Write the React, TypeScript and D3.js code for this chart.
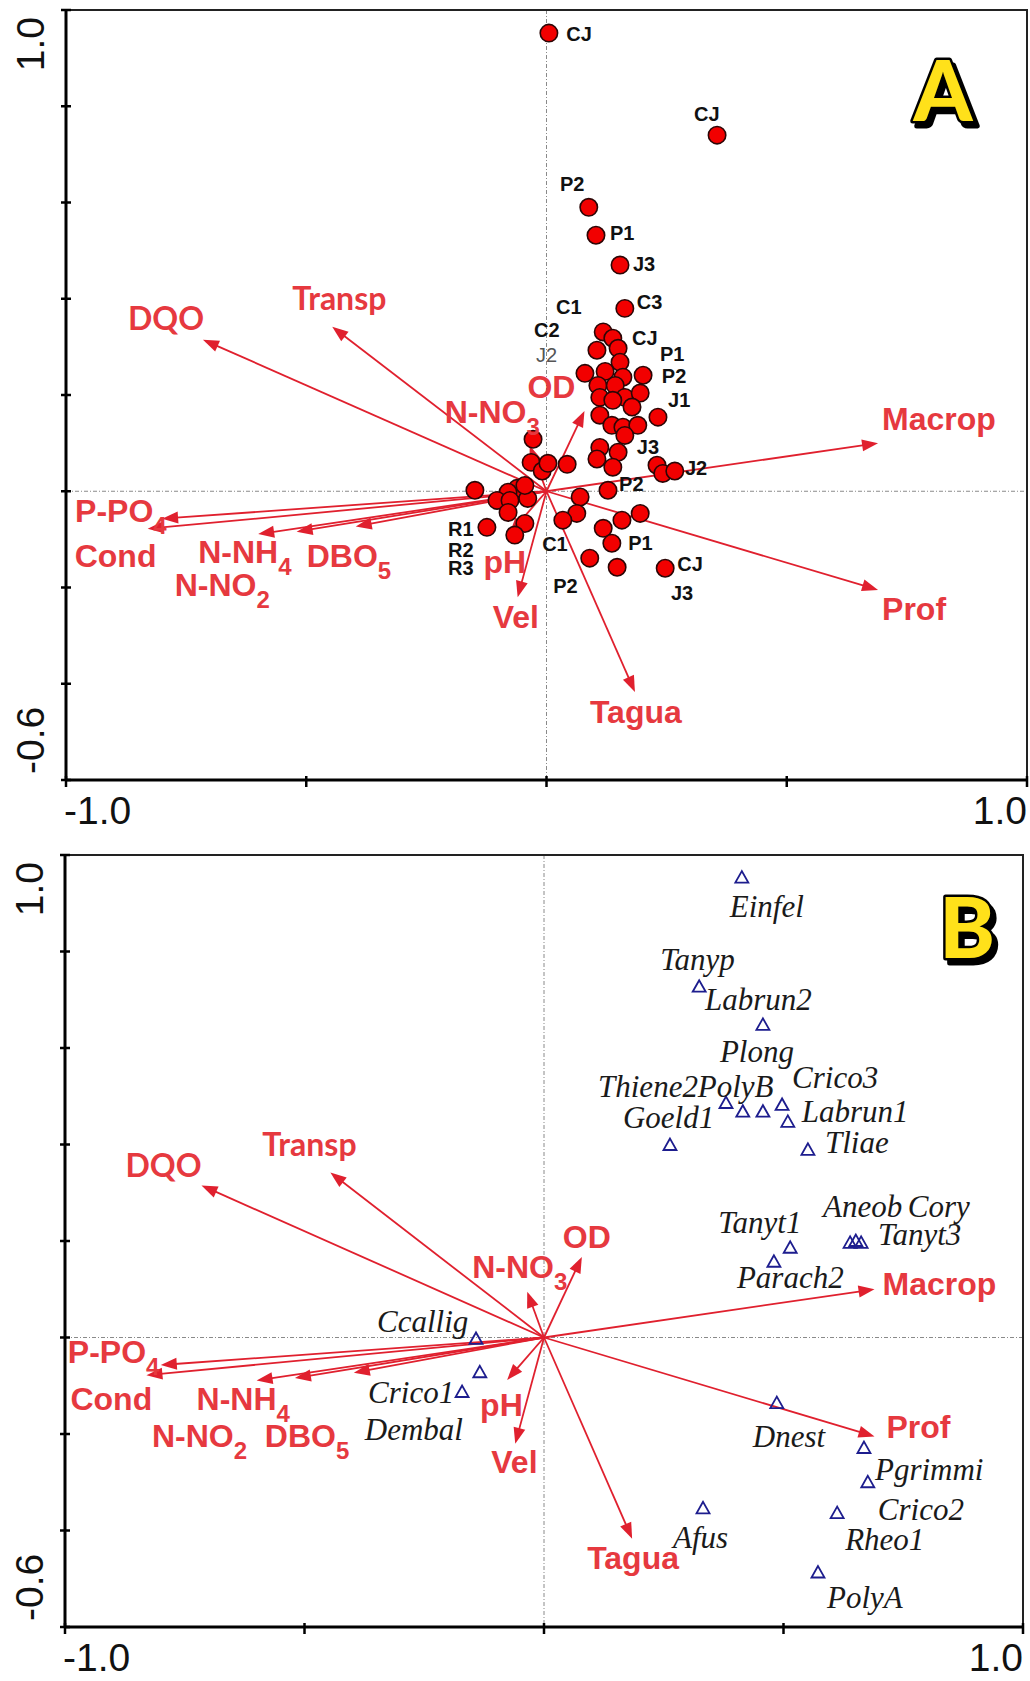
import React from 'react';
import * as d3 from 'd3';

const WIDTH = 1030;
const HEIGHT = 1681;

// environmental variables (same biplot arrows in both panels)
const envNames = ['DQO', 'Transp', 'N-NO3', 'OD', 'Macrop', 'Prof', 'Tagua', 'Vel', 'pH', 'P-PO4', 'Cond', 'N-NH4', 'N-NO2', 'DBO5'];
const envX = [-0.715, -0.446, -0.035, 0.079, 0.69, 0.69, 0.184, -0.06, -0.077, -0.8, -0.83, -0.6, -0.52, -0.397];
const envY = [0.315, 0.342, 0.095, 0.167, 0.1, -0.205, -0.417, -0.22, -0.088, -0.057, -0.078, -0.089, -0.084, -0.073];

// panel A: sampling sites
const siteX = [0.005, 0.355, 0.088, 0.103, 0.153, 0.163, 0.118, 0.138, 0.105, 0.149, 0.153, 0.08, 0.122, 0.159, 0.201,
  0.107, 0.143, 0.163, 0.195, 0.111, 0.138, 0.178, 0.111, 0.136, 0.159, 0.19, 0.232, 0.163, 0.111, 0.105, 0.149, 0.138,
  -0.028, -0.032, -0.009, 0.003, 0.043, 0.23, 0.242, 0.267, -0.149, -0.061, -0.08, -0.103, -0.076, -0.039, -0.08, -0.045,
  -0.124, -0.066, 0.07, 0.128, 0.063, 0.034, 0.157, 0.195, 0.118, 0.136, 0.09, 0.147, 0.247, -0.045];
const siteY = [0.952, 0.74, 0.59, 0.532, 0.47, 0.38, 0.331, 0.318, 0.293, 0.297, 0.268, 0.245, 0.249, 0.237, 0.241,
  0.22, 0.22, 0.195, 0.204, 0.195, 0.189, 0.175, 0.158, 0.137, 0.133, 0.137, 0.154, 0.116, 0.091, 0.067, 0.081, 0.05,
  0.108, 0.06, 0.042, 0.058, 0.056, 0.054, 0.037, 0.042, 0.002, 0.006, -0.002, -0.019, -0.019, -0.015, -0.044, -0.067,
  -0.075, -0.091, -0.012, 0.002, -0.046, -0.06, -0.06, -0.046, -0.077, -0.108, -0.139, -0.158, -0.16, 0.012];

const siteLabels = ['CJ', 'CJ', 'P2', 'P1', 'J3', 'C1', 'C3', 'C2', 'J2', 'CJ', 'P1', 'P2', 'J1', 'J3', 'J2', 'P2',
  'R1', 'R2', 'R3', 'C1', 'P1', 'P2', 'CJ', 'J3'];
const siteLabelX = [0.041, 0.307, 0.028, 0.132, 0.18, 0.02, 0.188, -0.026, -0.022, 0.178, 0.236, 0.24, 0.253, 0.188,
  0.288, 0.151, -0.205, -0.205, -0.205, -0.009, 0.17, 0.014, 0.272, 0.259];
const siteLabelY = [0.936, 0.769, 0.624, 0.522, 0.457, 0.368, 0.378, 0.32, 0.268, 0.304, 0.27, 0.225, 0.175, 0.077,
  0.033, 0.0, -0.094, -0.137, -0.175, -0.125, -0.123, -0.212, -0.166, -0.227];

// panel B: taxa
const taxa = ['Einfel', 'Tanyp', 'Labrun2', 'Thiene2', 'PolyB', 'Plong', 'Crico3', 'Labrun1', 'Goeld1', 'Tliae',
  'Aneob', 'Cory', 'Tanyt3', 'Tanyt1', 'Parach2', 'Dnest', 'Pgrimmi', 'Crico2', 'Rheo1', 'PolyA', 'Afus',
  'Ccallig', 'Crico1', 'Dembal'];
const taxaX = [0.413, 0.324, 0.457, 0.38, 0.415, 0.457, 0.497, 0.509, 0.263, 0.551, 0.639, 0.651, 0.662, 0.514,
  0.48, 0.486, 0.668, 0.676, 0.612, 0.572, 0.332, -0.142, -0.171, -0.134];
const taxaY = [0.953, 0.727, 0.648, 0.486, 0.468, 0.468, 0.482, 0.447, 0.399, 0.389, 0.196, 0.2, 0.196, 0.186,
  0.157, -0.136, -0.229, -0.3, -0.364, -0.487, -0.354, -0.003, -0.113, -0.072];

const xTicks = [-1, -0.5, 0, 0.5, 1];
const yTicks = [-0.6, -0.4, -0.2, 0, 0.2, 0.4, 0.6, 0.8, 1.0];
const xTickLabels = ['-1.0', '1.0'];
const yTickLabels = ['-0.6', '1.0'];

// label placement (px offsets from arrow tip), per panel
const envLabelOffA: Record<string, number[]> = {
  DQO: [-75, -10], Transp: [-40, -17], 'N-NO3': [-85, -23], OD: [-57, -13], Macrop: [4, -13], Prof: [4, 30],
  Tagua: [-45, 31], Vel: [-25, 31], pH: [-26, 39], 'P-PO4': [-87, 3], Cond: [-73, 38], 'N-NH4': [-60, 29],
  'N-NO2': [-122, 64], DBO5: [-49, 41],
};
const envLabelOffB: Record<string, number[]> = {
  DQO: [-76, -9], Transp: [-68, -16], 'N-NO3': [-55, -14], OD: [-19, -9], Macrop: [8, 6], Prof: [12, 2],
  Tagua: [-45, 30], Vel: [-24, 29], pH: [-27, 36], 'P-PO4': [-93, -2], Cond: [-76, 35], 'N-NH4': [-60, 30],
  'N-NO2': [-143, 69], DBO5: [-89, 74],
};
const taxaLabelOff: Record<string, number[]> = {
  Einfel: [-12, 39], Tanyp: [-39, -17], Labrun2: [-58, -15], Thiene2: [-128, -6], PolyB: [-45, -15],
  Plong: [-43, -50], Crico3: [10, -17], Labrun1: [14, 0], Goeld1: [-47, -17], Tliae: [17, 3], Aneob: [-27, -26],
  Cory: [52, -24], Tanyt3: [17, 2], Tanyt1: [-72, -15], Parach2: [-37, 26], Dnest: [-24, 44], Pgrimmi: [11, 32],
  Crico2: [10, 38], Rheo1: [8, 37], PolyA: [9, 36], Afus: [-30, 40], Ccallig: [-99, -7], Crico1: [-94, 11],
  Dembal: [-115, 68],
};

const ARROW = '#e0202e';
const LABEL_RED = '#e6393f';
const SANS = '"Liberation Sans", Arial, sans-serif';

type Box = { left: number; right: number; top: number; bottom: number };
type Scale = d3.ScaleLinear<number, number>;

const Arrow = ({ x0, y0, x1, y1 }: { x0: number; y0: number; x1: number; y1: number }) => {
  const len = Math.hypot(x1 - x0, y1 - y0);
  const ux = (x1 - x0) / len;
  const uy = (y1 - y0) / len;
  const hl = 16;
  const hw = 6;
  const bx = x1 - ux * hl;
  const by = y1 - uy * hl;
  const pts = [[x1, y1], [bx - uy * hw, by + ux * hw], [bx + uy * hw, by - ux * hw]];
  return (
    <g>
      <line x1={x0} y1={y0} x2={bx + ux * 2} y2={by + uy * 2} stroke={ARROW} strokeWidth={1.8} />
      <polygon points={pts.map((p) => p.join(',')).join(' ')} fill={ARROW} />
    </g>
  );
};

const EnvLabel = ({ name, x, y }: { name: string; x: number; y: number }) => {
  const m = name.match(/^(.*?)(\d)$/);
  const calibri = name === 'DQO' || name === 'Transp';
  return (
    <text x={x} y={y} fill={LABEL_RED} fontWeight={700}
      fontFamily={calibri ? 'Lato, "Open Sans", sans-serif' : SANS} fontSize={32}>
      {m ? (
        <>
          <tspan>{m[1]}</tspan>
          <tspan fontSize={24} dy={12}>{m[2]}</tspan>
        </>
      ) : name}
    </text>
  );
};

const Badge = ({ x, y, letter }: { x: number; y: number; letter: string }) => (
  <g fontFamily='Lato, "DejaVu Sans", sans-serif' fontWeight={900} fontSize={84} textAnchor="middle">
    <text x={x + 4} y={y + 5} fill="#000" stroke="#000" strokeWidth={5} strokeLinejoin="round">{letter}</text>
    <text x={x} y={y} fill="#ffe11a" stroke="#000" strokeWidth={5} strokeLinejoin="round"
      style={{ paintOrder: 'stroke' }}>{letter}</text>
  </g>
);

const Frame = ({ box, x, y }: { box: Box; x: Scale; y: Scale }) => (
  <g>
    {/* zero lines */}
    <line x1={box.left} x2={box.right} y1={y(0)} y2={y(0)} stroke="#8a8a8a" strokeWidth={1} strokeDasharray="4,2,1,2" />
    <line x1={x(0)} x2={x(0)} y1={box.top} y2={box.bottom} stroke="#8a8a8a" strokeWidth={1} strokeDasharray="4,2,1,2" />
    <rect x={box.left} y={box.top} width={box.right - box.left} height={box.bottom - box.top}
      fill="none" stroke="#222" strokeWidth={2} />
    <line x1={box.left} x2={box.left} y1={box.top} y2={box.bottom + 1} stroke="#000" strokeWidth={3} />
    <line x1={box.left - 1} x2={box.right} y1={box.bottom} y2={box.bottom} stroke="#000" strokeWidth={3} />
    {yTicks.map((t) => (
      <line key={'y' + t} x1={box.left - 5} x2={box.left + 5} y1={y(t)} y2={y(t)} stroke="#000" strokeWidth={2.5} />
    ))}
    {xTicks.map((t) => (
      <line key={'x' + t} x1={x(t)} x2={x(t)} y1={box.bottom - 4} y2={box.bottom + 7} stroke="#000" strokeWidth={2.5} />
    ))}
    <g fontFamily={SANS} fontSize={39} fill="#111">
      <text x={box.left - 2} y={box.bottom + 44}>{xTickLabels[0]}</text>
      <text x={box.right} y={box.bottom + 44} textAnchor="end">{xTickLabels[1]}</text>
      <text transform={`translate(${box.left - 22},${box.bottom - 6}) rotate(-90)`}>{yTickLabels[0]}</text>
      <text transform={`translate(${box.left - 22},${box.top + 7}) rotate(-90)`} textAnchor="end">{yTickLabels[1]}</text>
    </g>
  </g>
);

const Arrows = ({ x, y }: { x: Scale; y: Scale }) => (
  <g>
    {envNames.map((n, i) => (
      <Arrow key={n} x0={x(0)} y0={y(0)} x1={x(envX[i])} y1={y(envY[i])} />
    ))}
  </g>
);

const EnvLabels = ({ offsets, x, y }: { offsets: Record<string, number[]>; x: Scale; y: Scale }) => (
  <g>
    {envNames.map((n, i) => (
      <EnvLabel key={n} name={n} x={x(envX[i]) + offsets[n][0]} y={y(envY[i]) + offsets[n][1]} />
    ))}
  </g>
);

const App = () => {
  const boxA: Box = { left: 66, right: 1027, top: 10, bottom: 780 };
  const boxB: Box = { left: 65, right: 1023, top: 855, bottom: 1627 };

  const xA = d3.scaleLinear().domain([-1, 1]).range([boxA.left, boxA.right]);
  const yA = d3.scaleLinear().domain([-0.6, 1]).range([boxA.bottom, boxA.top]);
  const xB = d3.scaleLinear().domain([-1, 1]).range([boxB.left, boxB.right]);
  const yB = d3.scaleLinear().domain([-0.6, 1]).range([boxB.bottom, boxB.top]);

  const tri = (cx: number, cy: number) =>
    `${cx},${cy - 6.5} ${cx - 6.5},${cy + 5} ${cx + 6.5},${cy + 5}`;

  return (
    <svg width={WIDTH} height={HEIGHT} style={{ position: 'absolute', left: 0, top: 0, background: '#fff' }}>
      <rect width={WIDTH} height={HEIGHT} fill="#fff" />

      {/* ---- panel A ---- */}
      <Frame box={boxA} x={xA} y={yA} />
      <Arrows x={xA} y={yA} />
      {siteX.map((v, i) => (
        <circle key={i} cx={xA(v)} cy={yA(siteY[i])} r={8.7} fill="#f20000" stroke="#2b0606" strokeWidth={1.6} />
      ))}
      <g fontFamily={SANS} fontSize={20}>
        {siteLabels.map((s, i) => (
          <text key={i} x={xA(siteLabelX[i])} y={yA(siteLabelY[i])}
            fill={i === 8 ? '#555' : '#111'} fontWeight={i === 8 ? 400 : 700}>{s}</text>
        ))}
      </g>
      <EnvLabels offsets={envLabelOffA} x={xA} y={yA} />
      <Badge x={943} y={121} letter="A" />

      {/* ---- panel B ---- */}
      <Frame box={boxB} x={xB} y={yB} />
      <Arrows x={xB} y={yB} />
      {taxaX.map((v, i) => (
        <polygon key={i} points={tri(xB(v), yB(taxaY[i]))} fill="none" stroke="#1d1d8e" strokeWidth={1.8} />
      ))}
      <g fontFamily='"Liberation Serif", "Times New Roman", serif' fontStyle="italic" fontSize={31} fill="#1a1a1a">
        {taxa.map((t, i) => (
          <text key={t} x={xB(taxaX[i]) + taxaLabelOff[t][0]} y={yB(taxaY[i]) + taxaLabelOff[t][1]}>{t}</text>
        ))}
      </g>
      <EnvLabels offsets={envLabelOffB} x={xB} y={yB} />
      <Badge x={967} y={958} letter="B" />
    </svg>
  );
};

export default App;
